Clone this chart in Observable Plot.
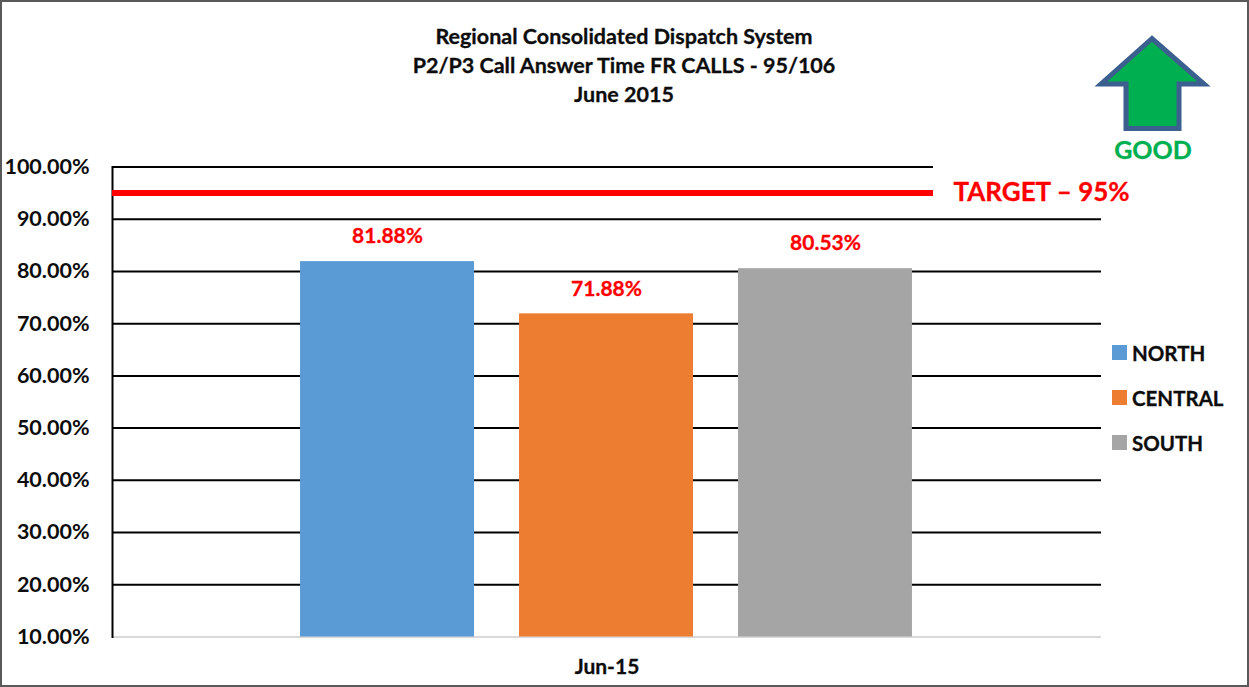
<!DOCTYPE html>
<html>
<head>
<meta charset="utf-8">
<script src="https://cdn.jsdelivr.net/npm/d3@7"></script>
<script src="https://cdn.jsdelivr.net/npm/@observablehq/plot@0.6"></script>
<style>
  html, body { margin: 0; padding: 0; background: #fff; overflow: hidden; }
  #page { position: relative; width: 1249px; height: 687px; font-family: Lato, "Open Sans", sans-serif; font-weight: 700; color: #0d0d0d; }
  #frame { position: absolute; inset: 0; border: 2px solid #595959; box-sizing: border-box; pointer-events: none; }
  #title { height: 130px; box-sizing: border-box; padding-top: 21.5px; text-align: center; font-size: 21.5px; line-height: 29px; padding-right: 1px; -webkit-text-stroke: 0.3px #0d0d0d; }
  #arrow { position: absolute; left: 1085px; top: 25px; }
  #good { position: absolute; left: 1053px; width: 200px; top: 133px; text-align: center; color: #00b050; font-size: 25px; line-height: 32px; -webkit-text-stroke: 0.3px #00b050; }
  #legend { position: absolute; left: 1112px; top: 330px; font-size: 20.5px; -webkit-text-stroke: 0.3px #0d0d0d; }
  #legend div { display: flex; align-items: center; height: 45px; white-space: nowrap; }
  #legend i { display: block; width: 15px; height: 15px; margin-right: 5px; }
  #chart svg { display: block; }
</style>
</head>
<body>
<div id="page">
  <div id="title"></div>
  <div id="chart"></div>
  <svg id="arrow" width="135" height="115" viewBox="1085 25 135 115">
    <polygon points="1152,38.5 1101,84 1126,84 1126,128.5 1179,128.5 1179,84 1204,84" fill="#00b050" stroke="#3b5f8e" stroke-width="5" stroke-linejoin="miter" stroke-miterlimit="8"/>
  </svg>
  <div id="good">GOOD</div>
  <div id="legend"></div>
  <div id="frame"></div>
</div>
<script>
const titleLines = [
  "Regional Consolidated Dispatch System",
  "P2/P3 Call Answer Time FR CALLS - 95/106",
  "June 2015"
];
const month = "Jun-15";
const regions = ["NORTH", "CENTRAL", "SOUTH"];
const values = [81.88, 71.88, 80.53];
const colors = ["#5b9bd5", "#ed7d31", "#a5a5a5"];
const yTicks = [10, 20, 30, 40, 50, 60, 70, 80, 90, 100];
const targetValue = 95;
const targetLabel = "TARGET – 95%";

const rows = regions.map((region, i) => ({region, value: values[i], month}));
const pct = v => v.toFixed(2) + "%";

document.getElementById("title").innerHTML = titleLines.map(t => `<div>${t}</div>`).join("");
document.getElementById("legend").innerHTML = regions
  .map((r, i) => `<div><i style="background:${colors[i]}"></i>${r}</div>`).join("");

const chart = Plot.plot({
  width: 1249,
  height: 557,
  marginTop: 36.5,
  marginBottom: 50.5,
  marginLeft: 112,
  marginRight: 148,
  style: {fontFamily: "Lato, 'Open Sans', sans-serif", fontWeight: 700, background: "transparent", color: "#0d0d0d", overflow: "visible"},
  x: {domain: regions, paddingInner: 0.2055, paddingOuter: 0.861, align: 0.4987, round: false, axis: null},
  y: {domain: [10, 100], label: null, ticks: yTicks, axis: null},
  color: {domain: regions, range: colors},
  marks: [
    // gridlines: the top one stops short of the right edge, where the target label sits
    Plot.ruleY(yTicks.filter(t => t > 10 && t < 100), {stroke: "#000", strokeWidth: 2}),
    Plot.ruleY([100], {stroke: "#000", strokeWidth: 2, insetRight: 168}),
    Plot.ruleY([10], {stroke: "#d9d9d9", strokeWidth: 2}),
    Plot.frame({anchor: "left", stroke: "#000", strokeWidth: 2}),
    Plot.barY(rows, {x: "region", y1: 10, y2: "value", fill: "region"}),
    Plot.ruleY([targetValue], {stroke: "#ff0000", strokeWidth: 6, insetRight: 168}),
    Plot.axisY({ticks: yTicks, tickFormat: pct, tickSize: 0, tickPadding: 23, fontSize: 21.5, label: null, fill: "#0d0d0d", stroke: "#0d0d0d", strokeWidth: 0.3}),
    Plot.text(rows, {x: "region", y: "value", text: d => pct(d.value), fill: "#ff0000", stroke: "#ff0000", strokeWidth: 0.3, fontSize: 21, dy: -25}),
    Plot.text([targetLabel], {y: [targetValue], frameAnchor: "left", dx: 841, fill: "#ff0000", stroke: "#ff0000", strokeWidth: 0.3, fontSize: 26, textAnchor: "start"}),
    Plot.text([month], {frameAnchor: "bottom", dy: 37, fontSize: 21, fill: "#0d0d0d", stroke: "#0d0d0d", strokeWidth: 0.3})
  ]
});
document.getElementById("chart").appendChild(chart);
</script>
</body>
</html>
